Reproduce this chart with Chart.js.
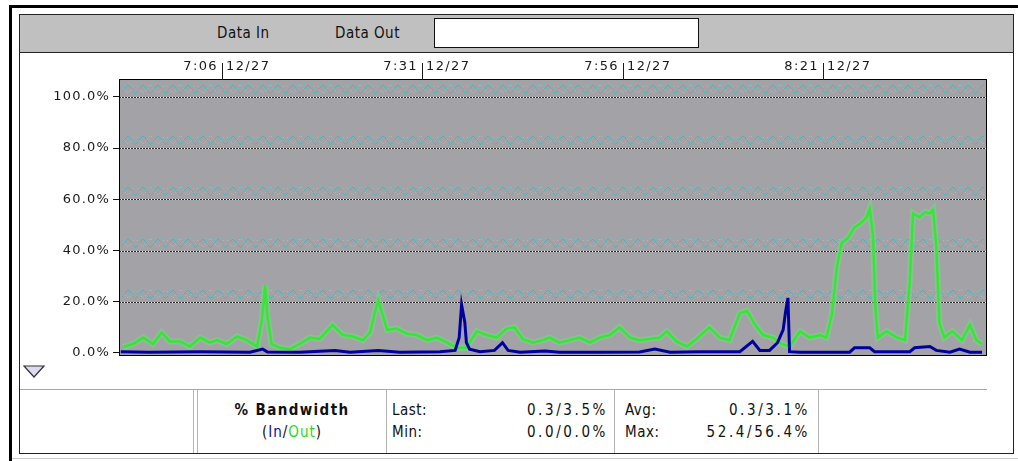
<!DOCTYPE html>
<html>
<head>
<meta charset="utf-8">
<script src="https://cdn.jsdelivr.net/npm/chart.js@4.4.1/dist/chart.umd.min.js"></script>
<style>
  html, body { margin: 0; padding: 0; background: #fff; width: 1018px; height: 461px; overflow: hidden; }
  #wrap { position: relative; width: 1018px; height: 461px; font-family: "DejaVu Sans Condensed", "Liberation Sans Narrow", "DejaVu Sans", sans-serif; color: #111; font-size: 15px; letter-spacing: 0.5px; }
  .abs { position: absolute; }
  .vl { position: absolute; top: 390px; height: 63px; width: 1px; background: #b4b4b4; }
  .txt { position: absolute; line-height: 18px; white-space: nowrap; }
  .num { letter-spacing: 2.6px; }
  canvas { position: absolute; left: 0; top: 0; }
</style>
</head>
<body>
<div id="wrap">
  <!-- window frame -->
  <div class="abs" style="left:9px;top:5px;width:1009px;height:3px;background:#000"></div>
  <div class="abs" style="left:9px;top:5px;width:3px;height:456px;background:#000"></div>
  <div class="abs" style="left:19px;top:14px;width:995px;height:440px;box-sizing:border-box;border:1px solid #222"></div>
  <div class="abs" style="left:12px;top:458px;width:1006px;height:1px;background:#c8c8c8"></div>

  <!-- header band -->
  <div class="abs" style="left:20px;top:15px;width:993px;height:37px;background:#c0c0c0;border-bottom:1px solid #222"></div>
  <div class="txt" style="left:217px;top:24px">Data In</div>
  <div class="txt" style="left:335px;top:24px">Data Out</div>
  <div class="abs" style="left:434px;top:18px;width:265px;height:30px;box-sizing:border-box;background:#fff;border:1px solid #111"></div>

  <!-- scale toggle arrow -->
  <svg class="abs" style="left:22px;top:364px" width="26" height="16">
    <polygon points="2,2 22,2 12,13" fill="#dcdcee" stroke="#333" stroke-width="1.2"/>
  </svg>

  <!-- statistics table -->
  <div class="abs" style="left:20px;top:389px;width:967px;height:1px;background:#a8a8a8"></div>
  <div class="vl" style="left:193px"></div>
  <div class="vl" style="left:197px"></div>
  <div class="vl" style="left:386px"></div>
  <div class="vl" style="left:614px"></div>
  <div class="vl" style="left:818px"></div>

  <div class="txt" style="left:198px;top:401px;width:188px;text-align:center;font-weight:bold;letter-spacing:1.4px">% Bandwidth</div>
  <div class="txt" style="left:198px;top:423px;width:188px;text-align:center;letter-spacing:1px">(<span style="color:#1010a0">In</span>/<span style="color:#22dd22">Out</span>)</div>
  <div class="txt" style="left:392px;top:401px">Last:</div>
  <div class="txt" style="left:392px;top:423px">Min:</div>
  <div class="txt num" id="lastVal" style="left:450px;top:401px;width:158px;text-align:right"></div>
  <div class="txt num" id="minVal" style="left:450px;top:423px;width:158px;text-align:right"></div>
  <div class="txt" style="left:625px;top:401px">Avg:</div>
  <div class="txt" style="left:625px;top:423px">Max:</div>
  <div class="txt num" id="avgVal" style="left:652px;top:401px;width:158px;text-align:right"></div>
  <div class="txt num" id="maxVal" style="left:652px;top:423px;width:158px;text-align:right"></div>

  <canvas id="c" width="1018" height="461"></canvas>
</div>

<script>
// Time axis in minutes since midnight (12/27)
const xTickTimes  = [426, 451, 476, 501];
const xTickLabels = ['7:06 12/27', '7:31 12/27', '7:56 12/27', '8:21 12/27'];
const yTickValues = [0, 20, 40, 60, 80, 100];

// Outbound bandwidth (%)
const outTimes = [413.7, 414.9, 416.2, 417.4, 418.5, 419.5, 420.8, 422.0, 423.3, 424.5,
  425.4, 426.6, 427.9, 429.1, 430.4, 431.0, 431.4, 431.7, 432.2, 433.2,
  434.5, 435.7, 437.0, 438.2, 439.8, 441.1, 442.3, 443.6, 444.5, 445.1,
  445.5, 446.1, 446.6, 447.8, 449.1, 450.3, 451.6, 452.8, 454.1, 455.3,
  456.5, 457.8, 459.0, 460.3, 461.5, 462.5, 463.5, 464.8, 466.0, 466.9,
  468.1, 469.4, 470.6, 471.9, 473.1, 474.4, 475.6, 476.9, 478.1, 479.4,
  480.6, 481.5, 482.7, 484.0, 485.2, 486.8, 488.1, 489.3, 490.6, 491.5,
  492.5, 493.5, 494.7, 495.8, 496.8, 498.1, 499.3, 500.6, 501.4, 502.1,
  502.7, 503.3, 504.1, 504.9, 505.8, 506.4, 506.8, 507.2, 507.5, 507.8,
  508.9, 510.2, 511.2, 511.8, 512.2, 513.0, 513.7, 514.3, 514.7, 515.1,
  515.5, 516.1, 517.1, 518.3, 519.3, 520.1, 520.8];
const outValues = [2.3, 3.5, 6, 3.5, 8, 4.5, 4.5, 2.5, 6, 4,
  5, 3.5, 6.5, 5, 2.5, 13, 26.5, 14, 3.5, 2,
  1.5, 3.5, 6, 5.5, 11, 7, 6.5, 5, 8, 16,
  20.6, 14.5, 9, 9.5, 7.5, 7, 5, 6, 4, 2,
  2, 8.5, 7, 6, 9.5, 10, 5.5, 4, 5, 6,
  4, 5, 6, 4, 6, 7, 10, 6, 5, 5.5,
  6, 8.5, 4.5, 2.5, 5.5, 10, 6, 5, 15.5, 16.5,
  11, 7, 6, 3.5, 2.5, 8.5, 6, 7, 6, 15.5,
  33.6, 43, 45, 49, 51, 53, 56.4, 46, 18, 6,
  8.5, 6, 5, 28.5, 54.5, 53, 55, 54.5, 56, 41.5,
  11.5, 6, 8.5, 5, 11, 5, 3.5];

// Inbound bandwidth (%)
const inTimes = [413.4, 417.0, 423.3, 429.5, 431.1, 431.7, 435.7, 440.1, 442.0, 445.5,
  448.2, 453.2, 455.1, 455.6, 455.9, 456.3, 456.5, 456.9, 458.2, 460.0,
  461.0, 461.7, 463.2, 466.3, 468.1, 473.1, 478.1, 480.0, 481.9, 485.6,
  490.6, 492.2, 493.1, 494.3, 495.3, 496.0, 496.3, 496.6, 496.8, 498.1,
  504.3, 504.9, 506.8, 507.4, 511.8, 512.4, 514.3, 515.1, 516.8, 518.0,
  519.3, 520.8];
const inValues = [0.5, 0.3, 0.5, 0.3, 1.5, 0.4, 0.3, 1, 0.3, 1,
  0.3, 0.5, 1, 6, 18.8, 12, 4, 1.5, 0.5, 1,
  4, 1, 0.3, 0.8, 0.3, 0.3, 0.4, 1.5, 0.3, 0.5,
  0.5, 4.5, 1, 1, 4, 9, 16, 21.5, 0.5, 0.3,
  0.3, 2, 2, 0.5, 0.5, 2, 2.5, 1, 0.3, 1.5,
  0.3, 0.3];

// Summary figures shown under the graph (In/Out)
const statLast = [0.3, 3.5];
const statMin  = [0.0, 0.0];
const statAvg  = [0.3, 3.1];
const statMax  = [52.4, 56.4];

const pair = a => a[0].toFixed(1) + '/' + a[1].toFixed(1) + '%';
document.getElementById('lastVal').textContent = pair(statLast);
document.getElementById('minVal').textContent  = pair(statMin);
document.getElementById('avgVal').textContent  = pair(statAvg);
document.getElementById('maxVal').textContent  = pair(statMax);

const toPoints = (ts, vs) => ts.map((t, i) => ({ x: t, y: vs[i] }));
const labelFont = '13px "DejaVu Sans", sans-serif';

// Grey plot well, dotted gridlines with dithered band, frame and time labels
const plotFrame = {
  id: 'plotFrame',
  beforeDraw(chart) {
    chart.ctx.letterSpacing = '1.2px';
  },
  beforeDatasetsDraw(chart) {
    const { ctx, chartArea: a, scales: { y } } = chart;
    ctx.save();
    ctx.fillStyle = '#a3a3a7';
    ctx.fillRect(a.left, a.top, a.right - a.left, a.bottom - a.top);
    yTickValues.filter(v => v > 0).forEach(v => {
      const gy = Math.round(y.getPixelForValue(v));
      for (let x = Math.ceil(a.left) + 2; x < a.right - 2; x++) {
        const p = ((x - a.left) % 15) / 15;
        const z = p < 0.5 ? p * 2 : 2 - p * 2;
        ctx.fillStyle = '#4fb3b8';
        ctx.fillRect(x, Math.round(gy - 4 - z * 9), 1, 1);
        if (x % 2 === 1) {
          ctx.fillStyle = '#86c7cc';
          ctx.fillRect(x, Math.round(gy - 4 - (1 - z) * 9), 1, 1);
        }
        if (x % 5 === 0) {
          ctx.fillStyle = '#6fbcc2';
          ctx.fillRect(x, gy - 13, 1, 1);
        }
      }
      ctx.fillStyle = '#2a2a2a';
      ctx.fillRect(a.left, gy, a.right - a.left, 1);
      ctx.fillStyle = '#ffffff';
      for (let x = Math.ceil(a.left) + 1; x < a.right; x += 3) ctx.fillRect(x, gy, 1, 1);
    });
    ctx.restore();
  },
  afterDraw(chart) {
    const { ctx, chartArea: a, scales: { x } } = chart;
    ctx.save();
    ctx.strokeStyle = '#000';
    ctx.lineWidth = 1;
    ctx.strokeRect(a.left - 0.5, a.top - 0.5, a.right - a.left + 1, a.bottom - a.top + 1);
    ctx.font = labelFont;
    ctx.fillStyle = '#1a1a1a';
    ctx.textBaseline = 'middle';
    ctx.letterSpacing = '1.4px';
    xTickTimes.forEach((t, i) => {
      const px = Math.round(x.getPixelForValue(t));
      ctx.fillRect(px, a.top - 17, 1, 17);
      const [hm, day] = xTickLabels[i].split(' ');
      ctx.textAlign = 'right';
      ctx.fillText(hm, px - 4, a.top - 13);
      ctx.textAlign = 'left';
      ctx.fillText(day, px + 4, a.top - 13);
    });
    ctx.restore();
  }
};

new Chart(document.getElementById('c'), {
  type: 'line',
  data: {
    datasets: [
      { label: 'In', data: toPoints(inTimes, inValues), borderColor: '#0000a0', borderWidth: 3,
        pointRadius: 0, tension: 0, order: 0 },
      { label: 'Out', data: toPoints(outTimes, outValues), borderColor: '#36e636', borderWidth: 2.5,
        pointRadius: 0, tension: 0, order: 1 },
      { label: 'Out glow', data: toPoints(outTimes, outValues), borderColor: 'rgba(120,215,130,0.6)', borderWidth: 6,
        pointRadius: 0, tension: 0, order: 2 }
    ]
  },
  options: {
    responsive: false,
    animation: false,
    devicePixelRatio: 1,
    layout: { padding: { top: 80, right: 32, bottom: 106, left: 0 } },
    plugins: { legend: { display: false }, tooltip: { enabled: false } },
    scales: {
      x: { type: 'linear', min: 413.3, max: 521.3, display: false },
      y: {
        min: -0.8, max: 106.6,
        afterFit(s) { s.width = 120; },
        afterBuildTicks(s) { s.ticks = yTickValues.map(v => ({ value: v })); },
        border: { display: false },
        grid: { drawOnChartArea: false, tickLength: 7, color: '#111', lineWidth: 1 },
        ticks: { padding: 3, color: '#1a1a1a', font: { family: 'DejaVu Sans', size: 13 },
          callback: v => v.toFixed(1) + '%' }
      }
    }
  },
  plugins: [plotFrame]
});
</script>
</body>
</html>
